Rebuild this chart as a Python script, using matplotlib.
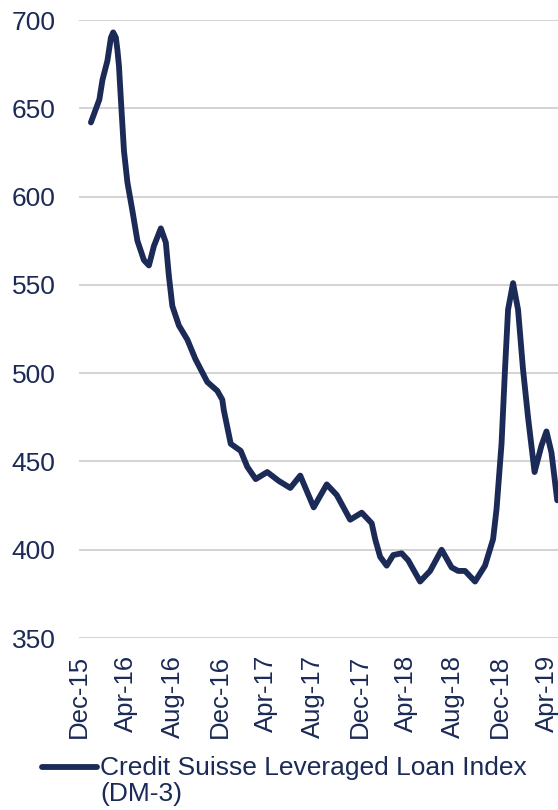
import pandas as pd
import matplotlib
matplotlib.use("Agg")
from matplotlib import pyplot as plt
from matplotlib.lines import Line2D
import matplotlib.dates as mdates

# Credit Suisse Leveraged Loan Index (DM-3)
dates = ["2016-01-01", "2016-01-23", "2016-01-31", "2016-02-13", "2016-02-22",
         "2016-02-28", "2016-03-06", "2016-03-10", "2016-03-14", "2016-03-19",
         "2016-03-27", "2016-04-05", "2016-04-18", "2016-05-01", "2016-05-18",
         "2016-05-31", "2016-06-13", "2016-07-01", "2016-07-14", "2016-07-22",
         "2016-07-31", "2016-08-17", "2016-09-08", "2016-09-29", "2016-10-30",
         "2016-11-25", "2016-12-08", "2016-12-12", "2016-12-30", "2017-01-25",
         "2017-02-11", "2017-03-05", "2017-04-04", "2017-05-04", "2017-06-03",
         "2017-06-29", "2017-08-03", "2017-09-06", "2017-10-02", "2017-11-06",
         "2017-12-06", "2018-01-01", "2018-01-10", "2018-01-23", "2018-02-09",
         "2018-02-26", "2018-03-20", "2018-04-06", "2018-05-07", "2018-06-02",
         "2018-07-02", "2018-07-28", "2018-08-14", "2018-09-01", "2018-09-27",
         "2018-10-23", "2018-11-13", "2018-11-22", "2018-12-05", "2018-12-14",
         "2018-12-22", "2019-01-04", "2019-01-17", "2019-01-30", "2019-02-12",
         "2019-03-01", "2019-03-19", "2019-04-01", "2019-04-14", "2019-04-29"]
dm3 = [642, 655, 666, 677, 690,
       693, 690, 683, 674, 655,
       626, 608, 592, 575, 564,
       561, 572, 582, 574, 555,
       538, 527, 519, 508, 495,
       490, 485, 479, 460, 456,
       447, 440, 444, 439, 435,
       442, 424, 437, 431, 417,
       421, 415, 406, 396, 391,
       397, 398, 394, 382, 388,
       400, 390, 388, 388, 382,
       391, 406, 423, 460, 502,
       536, 551, 536, 502, 475,
       444, 459, 467, 455, 428]

yticks = [350, 400, 450, 500, 550, 600, 650, 700]
label = "Credit Suisse Leveraged Loan Index\n(DM-3)"

navy = "#1b2a56"
plt.rcParams["font.family"] = ["Liberation Sans", "DejaVu Sans"]

df = pd.DataFrame({"Date": pd.to_datetime(dates), "DM3": dm3})

fig = plt.figure(figsize=(5.58, 8.10), dpi=100)
ax = fig.add_axes([0.1416, 0.2123, 0.8584, 0.763])

ax.plot(df["Date"], df["DM3"], color=navy, lw=4.2, solid_capstyle="round",
        solid_joinstyle="round", zorder=3)

ax.set_ylim(350, 700)
ax.set_yticks(yticks)
ax.set_xlim(pd.Timestamp("2015-12-01"), pd.Timestamp("2019-05-01"))
ax.xaxis.set_major_locator(mdates.MonthLocator(bymonth=[4, 8, 12]))
ax.xaxis.set_major_formatter(mdates.DateFormatter("%b-%y"))

ax.grid(axis="y", color="#c8c8c8", lw=1.1)
ax.set_axisbelow(True)
for s in ax.spines.values():
    s.set_visible(False)
ax.tick_params(axis="both", length=0, colors=navy)
ax.tick_params(axis="y", pad=17, labelsize=19)
ax.tick_params(axis="x", pad=12, labelsize=18.5)
for t in ax.get_xticklabels():
    t.set_rotation(90)

# legend drawn by hand so the key sits on the first text line
fig.add_artist(Line2D([42 / 558, 97 / 558], [1 - 767 / 810, 1 - 767 / 810],
                      color=navy, lw=4.2, solid_capstyle="round"))
fig.text(100 / 558, 1 - 756 / 810, label, color=navy, fontsize=19,
         va="top", ha="left", linespacing=1.08)

fig.savefig("out.png", dpi=100)
